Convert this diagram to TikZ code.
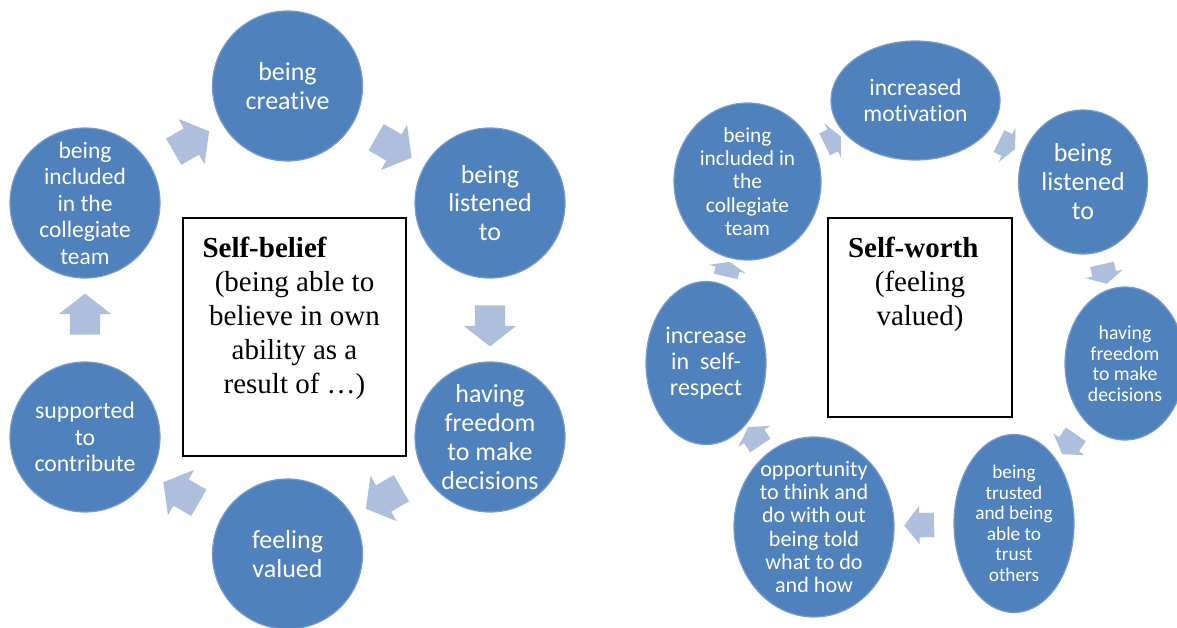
\documentclass[tikz,border=0pt]{standalone}
\usepackage{fontspec}
\setmainfont{Liberation Serif}
\setsansfont[RawFeature={-liga}]{Carlito}
\usetikzlibrary{shapes.geometric,shapes.arrows}
\definecolor{nodeblue}{RGB}{79,129,189}
\definecolor{rimblue}{RGB}{118,156,206}
\definecolor{arrowblue}{RGB}{174,191,221}
\tikzset{
BUBBLE/.style={ellipse, fill=nodeblue, draw=rimblue, line width=1.2pt, inner sep=0pt},
DISC/.style={BUBBLE, minimum width=150pt, minimum height=150pt},
LABEL/.style 2 args={text=white, align=center, font=\sffamily\fontsize{#1}{#2}\selectfont},
BLOCK/.style={single arrow, fill=arrowblue, draw=none, inner xsep=0pt, minimum width=0pt, sloped, allow upside down},
BIGBLOCK/.style={BLOCK, inner ysep=15pt, single arrow head extend=11pt, minimum height=41pt, single arrow tip angle=104},
SMALLBLOCK/.style 2 args={BLOCK, inner ysep=12pt, single arrow head extend=7pt, minimum height=#1, single arrow tip angle=#2},
BOX/.style={draw=black, line width=1.8pt, fill=white, inner sep=0pt},
BOXTEXT/.style={align=center, inner sep=0pt, anchor=north, font=\fontsize{29}{34}\selectfont},
}
\begin{document}
\begin{tikzpicture}[x=1pt, y=-1pt]
\useasboundingbox (0,0) rectangle (1177,628);
% self-belief cycle
\node[DISC, label={[LABEL={23.5}{26.5}]center:being\\included\\in the\\collegiate\\team}] (incl) at (85,203) {};
\node[DISC, label={[LABEL={26}{28.5}]center:being\\creative}] (creat) at (287.5,86) {};
\node[DISC, label={[LABEL={26}{28.5}]center:being\\listened\\to}] (listen) at (490,203) {};
\node[DISC, label={[LABEL={26}{28.8}]center:having\\freedom\\to make\\decisions}] (free) at (490,437) {};
\node[DISC, label={[LABEL={26}{28.5}]center:feeling\\valued}] (feel) at (287.5,554) {};
\node[DISC, label={[LABEL={23.8}{26.7}]center:supported\\to\\contribute}] (support) at (85,437) {};
\foreach \a/\b in {incl/creat, creat/listen, listen/free, free/feel, feel/support, support/incl}
  \path (\a) -- node[BIGBLOCK] {} (\b);
\node[BOX, minimum width=223pt, minimum height=238pt] (belief) at (294.5,337) {};
\node[BOXTEXT] (belieftext) at ([yshift=-20pt]belief.north)
  {\makebox[184pt][l]{\bfseries Self-belief}\\(being able to\\believe in own\\ability as a\\result of …)};
% self-worth cycle
\node[BUBBLE, minimum width=147pt, minimum height=157pt,
  label={[LABEL={21.4}{23.3}]center:being\\included in\\the\\collegiate\\team}] (team) at (747.5,181.5) {};
\node[BUBBLE, minimum width=169pt, minimum height=119pt,
  label={[LABEL={23.6}{25.5}]center:increased\\motivation}] (motiv) at (915.5,100.5) {};
\node[BUBBLE, minimum width=129pt, minimum height=144pt,
  label={[LABEL={26}{29}]center:being\\listened\\to}] (heard) at (1083,182) {};
\node[BUBBLE, minimum width=120pt, minimum height=153pt,
  label={[LABEL={19.8}{20.5}]center:having\\freedom\\to make\\decisions}] (decide) at (1125,363.5) {};
\node[BUBBLE, minimum width=120pt, minimum height=178pt,
  label={[LABEL={19.3}{20.5}]center:being\\trusted\\and being\\able to\\trust\\others}] (trust) at (1014,523.5) {};
\node[BUBBLE, minimum width=160pt, minimum height=180pt,
  label={[LABEL={22.1}{23.3}]center:opportunity\\to think and\\do with out\\being told\\what to do\\and how}] (chance) at (814,527) {};
\node[BUBBLE, minimum width=120pt, minimum height=163pt,
  label={[LABEL={24}{26}]center:increase\\in~~self-\\respect}] (respect) at (706,363) {};
\path (team) -- node[SMALLBLOCK={18pt}{129}] {} (motiv);
\path (motiv) -- node[SMALLBLOCK={18pt}{129}] {} (heard);
\path (heard) -- node[SMALLBLOCK={20pt}{124}] {} (decide);
\path (decide) -- node[SMALLBLOCK={24pt}{116}] {} (trust);
\path (trust) -- node[SMALLBLOCK={30pt}{103}] {} (chance);
\path (chance) -- node[SMALLBLOCK={22pt}{120}] {} (respect);
\path (respect) -- node[SMALLBLOCK={15pt}{137}] {} (team);
\node[BOX, minimum width=184pt, minimum height=199pt] (worth) at (920,317.5) {};
\node[BOXTEXT] (worthtext) at ([yshift=-20pt]worth.north)
  {\makebox[144pt][l]{\bfseries Self-worth}\\(feeling\\valued)};
\end{tikzpicture}
\end{document}
